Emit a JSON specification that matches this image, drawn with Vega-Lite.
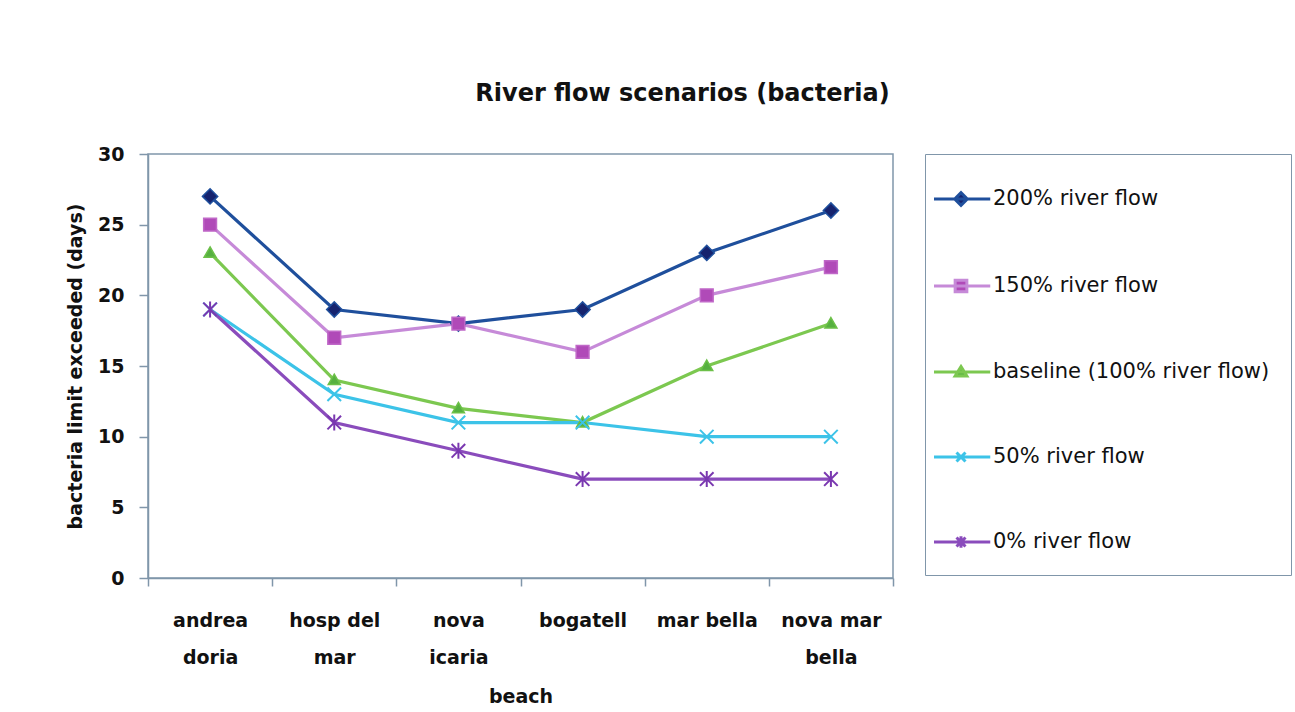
{
  "$schema": "https://vega.github.io/schema/vega-lite/v6.json",
  "width": 745,
  "height": 424,
  "autosize": {"type": "none"},
  "padding": {"left": 148, "top": 154, "right": 402, "bottom": 134},
  "background": "white",
  "title": {
    "text": "River flow scenarios (bacteria)",
    "font": "DejaVu Sans",
    "fontSize": 24,
    "fontWeight": "bold",
    "color": "#111111",
    "anchor": "middle",
    "dx": 162,
    "offset": 39
  },
  "data": {
    "values": [
      {"beach": "andrea doria", "scenario": "200% river flow", "days": 27},
      {"beach": "hosp del mar", "scenario": "200% river flow", "days": 19},
      {"beach": "nova icaria", "scenario": "200% river flow", "days": 18},
      {"beach": "bogatell", "scenario": "200% river flow", "days": 19},
      {"beach": "mar bella", "scenario": "200% river flow", "days": 23},
      {"beach": "nova mar bella", "scenario": "200% river flow", "days": 26},
      {"beach": "andrea doria", "scenario": "150% river flow", "days": 25},
      {"beach": "hosp del mar", "scenario": "150% river flow", "days": 17},
      {"beach": "nova icaria", "scenario": "150% river flow", "days": 18},
      {"beach": "bogatell", "scenario": "150% river flow", "days": 16},
      {"beach": "mar bella", "scenario": "150% river flow", "days": 20},
      {"beach": "nova mar bella", "scenario": "150% river flow", "days": 22},
      {"beach": "andrea doria", "scenario": "baseline (100% river flow)", "days": 23},
      {"beach": "hosp del mar", "scenario": "baseline (100% river flow)", "days": 14},
      {"beach": "nova icaria", "scenario": "baseline (100% river flow)", "days": 12},
      {"beach": "bogatell", "scenario": "baseline (100% river flow)", "days": 11},
      {"beach": "mar bella", "scenario": "baseline (100% river flow)", "days": 15},
      {"beach": "nova mar bella", "scenario": "baseline (100% river flow)", "days": 18},
      {"beach": "andrea doria", "scenario": "50% river flow", "days": 19},
      {"beach": "hosp del mar", "scenario": "50% river flow", "days": 13},
      {"beach": "nova icaria", "scenario": "50% river flow", "days": 11},
      {"beach": "bogatell", "scenario": "50% river flow", "days": 11},
      {"beach": "mar bella", "scenario": "50% river flow", "days": 10},
      {"beach": "nova mar bella", "scenario": "50% river flow", "days": 10},
      {"beach": "andrea doria", "scenario": "0% river flow", "days": 19},
      {"beach": "hosp del mar", "scenario": "0% river flow", "days": 11},
      {"beach": "nova icaria", "scenario": "0% river flow", "days": 9},
      {"beach": "bogatell", "scenario": "0% river flow", "days": 7},
      {"beach": "mar bella", "scenario": "0% river flow", "days": 7},
      {"beach": "nova mar bella", "scenario": "0% river flow", "days": 7}
    ]
  },
  "encoding": {
    "x": {
      "field": "beach",
      "type": "ordinal",
      "sort": ["andrea doria", "hosp del mar", "nova icaria", "bogatell", "mar bella", "nova mar bella"],
      "scale": {"type": "band", "paddingInner": 0, "paddingOuter": 0},
      "bandPosition": 0.5,
      "axis": {
        "title": "beach",
        "labelAngle": 0,
        "labelExpr": "length(datum.label) > 9 ? [slice(datum.label, 0, lastindexof(datum.label, ' ')), slice(datum.label, lastindexof(datum.label, ' ') + 1)] : datum.label",
        "labelLineHeight": 37,
        "labelPadding": 25,
        "labelBaseline": "top",
        "tickBand": "extent",
        "tickSize": 8,
        "titlePadding": 20
      }
    },
    "y": {
      "field": "days",
      "type": "quantitative",
      "scale": {"domain": [0, 30], "nice": false, "zero": true},
      "axis": {
        "title": "bacteria limit exceeded (days)",
        "values": [0, 5, 10, 15, 20, 25, 30],
        "tickSize": 9,
        "labelPadding": 15,
        "titlePadding": 12
      }
    }
  },
  "layer": [
    {
      "mark": {"type": "line", "strokeWidth": 3.2},
      "encoding": {
        "stroke": {
          "field": "scenario",
          "type": "nominal",
          "title": null,
          "scale": {
            "domain": ["200% river flow", "150% river flow", "baseline (100% river flow)", "50% river flow", "0% river flow"],
            "range": ["#1f4f9c", "#c68ad8", "#7cc850", "#3cc3e8", "#8a4cbc"]
          }
        }
      }
    },
    {
      "transform": [{"filter": "datum.scenario === '200% river flow'"}],
      "mark": {"type": "point", "shape": "M-0.95,0L0,-0.95L0.95,0L0,0.95Z", "size": 256, "filled": true, "opacity": 1, "fill": "#16236e", "stroke": "#1f4f9c", "strokeWidth": 1.5}
    },
    {
      "transform": [{"filter": "datum.scenario === '150% river flow'"}],
      "mark": {"type": "point", "shape": "M-0.8,-0.8H0.8V0.8H-0.8Z", "size": 256, "filled": true, "opacity": 1, "fill": "#b04ab8", "stroke": "#c068c8", "strokeWidth": 1.5}
    },
    {
      "transform": [{"filter": "datum.scenario === 'baseline (100% river flow)'"}],
      "mark": {"type": "point", "shape": "M0,-0.75L0.75,0.55H-0.75Z", "size": 256, "filled": true, "opacity": 1, "fill": "#56b040", "stroke": "#6cc048", "strokeWidth": 1.5}
    },
    {
      "transform": [{"filter": "datum.scenario === '50% river flow'"}],
      "mark": {"type": "point", "shape": "M-0.85,-0.85L0.85,0.85M-0.85,0.85L0.85,-0.85", "size": 256, "filled": false, "opacity": 1, "stroke": "#3cc3e8", "strokeWidth": 2}
    },
    {
      "transform": [{"filter": "datum.scenario === '0% river flow'"}],
      "mark": {"type": "point", "shape": "M-0.85,-0.85L0.85,0.85M-0.85,0.85L0.85,-0.85M0,-1V1", "size": 256, "filled": false, "opacity": 1, "stroke": "#7a38b0", "strokeWidth": 2}
    },
    {
      "transform": [{"filter": "false"}],
      "mark": {"type": "point", "filled": true, "opacity": 1, "size": 2025, "strokeWidth": 3},
      "encoding": {
        "fill": {
          "field": "scenario",
          "type": "nominal",
          "title": null,
          "scale": {
            "domain": ["200% river flow", "150% river flow", "baseline (100% river flow)", "50% river flow", "0% river flow"],
            "range": ["#16236e", "#b04ab8", "#56b040", "#3cc3e8", "#6c2ca2"]
          }
        },
        "stroke": {"field": "scenario", "type": "nominal", "title": null},
        "shape": {
          "field": "scenario",
          "type": "nominal",
          "title": null,
          "scale": {
            "domain": ["200% river flow", "150% river flow", "baseline (100% river flow)", "50% river flow", "0% river flow"],
            "range": [
              "M-1.6,0H0.9M-0.68,0L-0.4,-0.28L-0.12,0L-0.4,0.28Z",
              "M-0.66,-0.26H-0.14V0.26H-0.66ZM-1.6,0H0.9",
              "M-0.4,-0.24L-0.14,0.18H-0.66ZM-1.6,0H0.9",
              "M-1.6,0H0.9M-0.6,-0.2L-0.2,0.2M-0.6,0.2L-0.2,-0.2",
              "M-1.6,0H0.9M-0.6,-0.2L-0.2,0.2M-0.6,0.2L-0.2,-0.2M-0.4,-0.26V0.26"
            ]
          }
        }
      }
    }
  ],
  "config": {
    "view": {"stroke": "#8096aa", "strokeWidth": 1.5},
    "legend": {
      "orient": "right",
      "offset": 32,
      "padding": 21,
      "strokeColor": "#8096aa",
      "fillColor": "white",
      "symbolSize": 2025,
      "symbolStrokeWidth": 3,
      "symbolOpacity": 1,
      "labelFont": "DejaVu Sans",
      "labelFontSize": 21,
      "labelColor": "#111111",
      "labelOffset": -1,
      "labelLimit": 400,
      "rowPadding": 50
    },
    "axis": {
      "grid": false,
      "domainColor": "#8096aa",
      "domainWidth": 1.5,
      "tickColor": "#8096aa",
      "tickWidth": 1.5,
      "labelFont": "DejaVu Sans",
      "labelFontSize": 19,
      "labelFontWeight": "bold",
      "labelColor": "#111111",
      "titleFont": "DejaVu Sans",
      "titleFontSize": 19,
      "titleFontWeight": "bold",
      "titleColor": "#111111"
    }
  }
}
